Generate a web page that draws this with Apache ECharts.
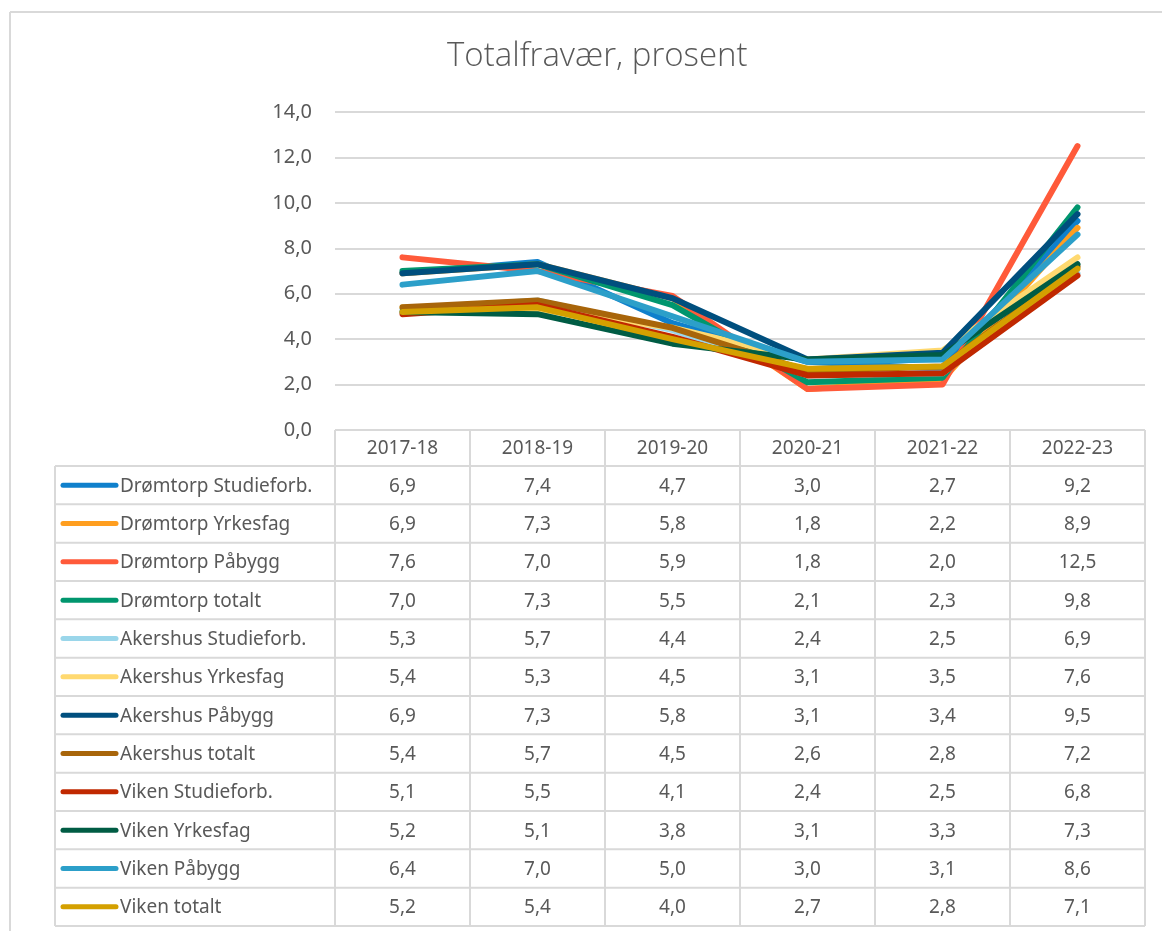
<!DOCTYPE html>
<html>
<head>
<meta charset="utf-8">
<script src="https://cdn.jsdelivr.net/npm/echarts@6/dist/echarts.min.js"></script>
<style>
  html, body { margin: 0; padding: 0; background: #fff; }
  #contain { width: 1162px; height: 931px; }
</style>
</head>
<body>
<div id="contain"></div>
<script>
// skoleår
const categories = ['2017-18', '2018-19', '2019-20', '2020-21', '2021-22', '2022-23']

const dromtorpStudieforb = [6.9, 7.4, 4.7, 3.0, 2.7, 9.2]
const dromtorpYrkesfag = [6.9, 7.3, 5.8, 1.8, 2.2, 8.9]
const dromtorpPabygg = [7.6, 7.0, 5.9, 1.8, 2.0, 12.5]
const dromtorpTotalt = [7.0, 7.3, 5.5, 2.1, 2.3, 9.8]
const akershusStudieforb = [5.3, 5.7, 4.4, 2.4, 2.5, 6.9]
const akershusYrkesfag = [5.4, 5.3, 4.5, 3.1, 3.5, 7.6]
const akershusPabygg = [6.9, 7.3, 5.8, 3.1, 3.4, 9.5]
const akershusTotalt = [5.4, 5.7, 4.5, 2.6, 2.8, 7.2]
const vikenStudieforb = [5.1, 5.5, 4.1, 2.4, 2.5, 6.8]
const vikenYrkesfag = [5.2, 5.1, 3.8, 3.1, 3.3, 7.3]
const vikenPabygg = [6.4, 7.0, 5.0, 3.0, 3.1, 8.6]
const vikenTotalt = [5.2, 5.4, 4.0, 2.7, 2.8, 7.1]

const rows = [
  { name: 'Drømtorp Studieforb.', data: dromtorpStudieforb, color: '#0F80CC' },
  { name: 'Drømtorp Yrkesfag', data: dromtorpYrkesfag, color: '#FF9E1F' },
  { name: 'Drømtorp Påbygg', data: dromtorpPabygg, color: '#FF5A3A' },
  { name: 'Drømtorp totalt', data: dromtorpTotalt, color: '#00966E' },
  { name: 'Akershus Studieforb.', data: akershusStudieforb, color: '#9AD6EA' },
  { name: 'Akershus Yrkesfag', data: akershusYrkesfag, color: '#FFD970' },
  { name: 'Akershus Påbygg', data: akershusPabygg, color: '#004F7E' },
  { name: 'Akershus totalt', data: akershusTotalt, color: '#A8650A' },
  { name: 'Viken Studieforb.', data: vikenStudieforb, color: '#C02800' },
  { name: 'Viken Yrkesfag', data: vikenYrkesfag, color: '#005C44' },
  { name: 'Viken Påbygg', data: vikenPabygg, color: '#2C9FC9' },
  { name: 'Viken totalt', data: vikenTotalt, color: '#D4A000' }
]

const fmt = (v) => v.toFixed(1).replace('.', ',')

const W = 1162
const gridLeft = 335
const gridRight = 1145
const gridTop = 112
const axisY = 430
const headerH = 36
const tableBottom = 926
const tableLeft = 55
const rowH = (tableBottom - axisY - headerH) / rows.length
const colW = (gridRight - gridLeft) / categories.length
const txt = '#595959'
const border = '#D9D9D9'
const font = '"Noto Sans", sans-serif'
const fs = 19

const init = () => {
  let chartDom = document.getElementById('contain')
  let myChart = echarts.init(chartDom)

  const graphics = []
  // ytre ramme
  graphics.push({ type: 'line', shape: { x1: 10, y1: 12, x2: W, y2: 12 }, style: { stroke: border, lineWidth: 2 } })
  graphics.push({ type: 'line', shape: { x1: 10, y1: 12, x2: 10, y2: 931 }, style: { stroke: border, lineWidth: 2 } })

  // tabell: horisontale linjer
  const hy = [axisY]
  for (let i = 0; i <= rows.length; i++) hy.push(axisY + headerH + i * rowH)
  hy.forEach((y, i) => {
    graphics.push({
      type: 'line',
      shape: { x1: i === 0 ? gridLeft : tableLeft, y1: y, x2: gridRight, y2: y },
      style: { stroke: border, lineWidth: 2 }
    })
  })
  // vertikale linjer
  graphics.push({ type: 'line', shape: { x1: tableLeft, y1: axisY + headerH, x2: tableLeft, y2: tableBottom }, style: { stroke: border, lineWidth: 2 } })
  for (let c = 0; c <= categories.length; c++) {
    const x = gridLeft + c * colW
    graphics.push({ type: 'line', shape: { x1: x, y1: axisY, x2: x, y2: tableBottom }, style: { stroke: border, lineWidth: 2 } })
  }
  // header
  categories.forEach((cat, c) => {
    graphics.push({
      type: 'text', x: gridLeft + (c + 0.5) * colW, y: axisY + headerH / 2 + 1,
      style: { text: cat, fill: txt, font: fs + 'px ' + font, align: 'center', verticalAlign: 'middle' }
    })
  })
  // rader
  rows.forEach((r, i) => {
    const cy = axisY + headerH + (i + 0.5) * rowH
    graphics.push({
      type: 'line', shape: { x1: 63, y1: cy, x2: 116, y2: cy },
      style: { stroke: r.color, lineWidth: 5, lineCap: 'round' }
    })
    graphics.push({
      type: 'text', x: 120, y: cy + 1,
      style: { text: r.name, fill: txt, font: fs + 'px ' + font, align: 'left', verticalAlign: 'middle' }
    })
    r.data.forEach((v, c) => {
      graphics.push({
        type: 'text', x: gridLeft + (c + 0.5) * colW, y: cy + 1,
        style: { text: fmt(v), fill: txt, font: fs + 'px ' + font, align: 'center', verticalAlign: 'middle' }
      })
    })
  })

  let option = {
    animation: false,
    title: {
      text: 'Totalfravær, prosent',
      left: 442,
      top: 35,
      textStyle: { fontFamily: '"Open Sans"', fontWeight: 300, fontSize: 33, color: txt }
    },
    grid: {
      left: gridLeft,
      right: W - gridRight,
      top: gridTop,
      bottom: 931 - axisY
    },
    xAxis: {
      type: 'category',
      data: categories,
      boundaryGap: true,
      axisLine: { show: false },
      axisTick: { show: false },
      axisLabel: { show: false }
    },
    yAxis: {
      type: 'value',
      min: 0,
      max: 14,
      interval: 2,
      axisLine: { show: false },
      axisTick: { show: false },
      axisLabel: {
        formatter: (v) => fmt(v),
        color: txt,
        fontSize: 20,
        fontFamily: font,
        margin: 23
      },
      splitLine: { lineStyle: { color: border, width: 2 } }
    },
    series: rows.map((r) => ({
      name: r.name,
      type: 'line',
      data: r.data,
      symbol: 'none',
      lineStyle: { color: r.color, width: 6, cap: 'round', join: 'round' },
      itemStyle: { color: r.color }
    })),
    graphic: graphics
  }

  option && myChart.setOption(option)
}
init()
</script>
</body>
</html>
